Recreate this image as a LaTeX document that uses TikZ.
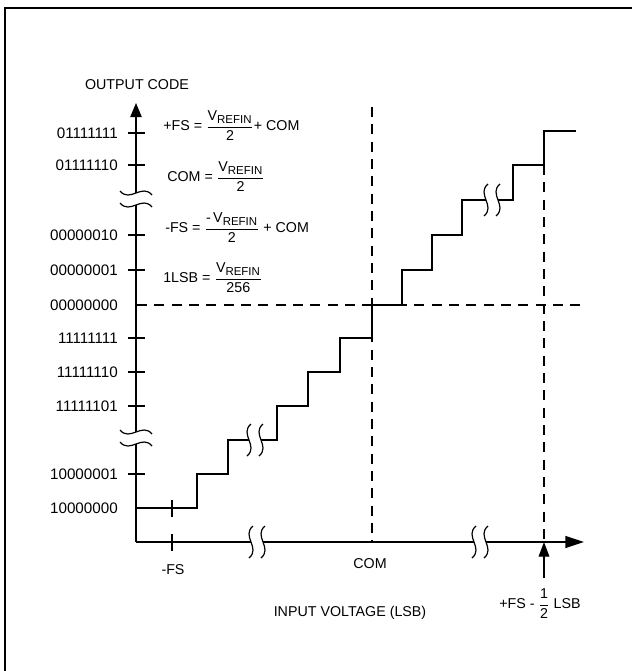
\documentclass[tikz,border=0pt]{standalone}
\usepackage{fontspec}
\setmainfont{Liberation Sans}
\usetikzlibrary{arrows.meta}

\newcommand{\vrefin}{\mbox{V}_{\mbox{\fontsize{8.6}{9}\selectfont REFIN}}}
\newcommand{\adcfrac}[2]{$\displaystyle\frac{#1}{#2}$}

\tikzset{
    lbl/.style={font=\fontsize{10.7}{12.8}\selectfont, inner sep=0pt},
    codelbl/.style={font=\fontsize{11.4}{13}\selectfont, inner sep=0pt, anchor=east},
    stair/.style={line width=1pt},
    guide/.style={line width=0.8pt, dash pattern=on 7.5pt off 5.5pt},
    gap/.pic={
        \fill[white] (-4,-16) .. controls (-16,-6) and (4,6) .. (-8,16) -- (4,16)
            .. controls (16,6) and (-4,-6) .. (8,-16) -- cycle;
        \draw[line width=0.9pt] (-4,-16) .. controls (-16,-6) and (4,6) .. (-8,16);
        \draw[line width=0.9pt] (8,-16) .. controls (-4,-6) and (16,6) .. (4,16);
    }
}

\begin{document}
\begin{tikzpicture}[x=0.75pt, y=-0.75pt]
    \useasboundingbox (0,0) rectangle (632,671);
    \draw[line width=1.6pt] (5,671) -- (5,8) -- (632,8);

    \coordinate (O) at (136,542);
    \coordinate (ytip) at (136,103);
    \coordinate (xtip) at (584,542);
    \coordinate (fstail) at (544,578);
    \coordinate (fshead) at (544,542);

    \draw[guide] (137,305) -- (580,305);
    \draw[guide] (372,107) -- (372,542);
    \draw[guide] (544,165) -- (544,542);

    \draw[stair, -{Triangle[length=10.5pt,width=8.5pt]}] (O) -- (ytip);
    \draw[stair, -{Triangle[length=14pt,width=9pt]}] (O) -- (xtip);
    \draw[stair, -{Triangle[length=11pt,width=8pt]}] (fstail) -- (fshead);

    \foreach \y/\code in {508/10000000, 474/10000001, 406/11111101, 372/11111110, 338/11111111,
                          305/00000000, 270/00000001, 235/00000010, 165/01111110, 133/01111111}{
        \draw (118,\y) node[codelbl] (code\y) {\code};
    }
    \foreach \y in {474,406,372,338,270,235,165,133}{
        \draw[stair] (128,\y) -- (145,\y);
    }

    \draw[stair] (136,508) -- (197,508) -- (197,474) -- (228,474) -- (228,440) -- (277,440)
        -- (277,406) -- (308,406) -- (308,372) -- (340,372) -- (340,338) -- (372,338)
        -- (372,305) -- (402,305) -- (402,270) -- (432,270) -- (432,235) -- (462,235)
        -- (462,200) -- (513,200) -- (513,165) -- (544,165) -- (544,131) -- (576,131);

    \draw[stair] (172,534) -- (172,551);
    \draw[stair] (172,500) -- (172,517);

    \pic at (255,440) {gap};
    \pic at (492,200) {gap};
    \pic at (257,542) {gap};
    \pic at (480,542) {gap};
    \pic[rotate=90] at (136,199) {gap};
    \pic[rotate=90] at (136,438) {gap};

    \draw (137,85) node[lbl] (ytitle) {OUTPUT CODE};
    \draw (350,613) node[lbl] (xtitle) {INPUT VOLTAGE (LSB)};
    \draw (173,570) node[lbl] (mfs) {-FS};
    \draw (370,564) node[lbl] (com) {COM};
    \draw (540,604) node[lbl] (pfs) {+FS - \adcfrac{\mbox{1}}{\mbox{2}} LSB};

    \draw (163,126) node[lbl, anchor=west] (eqpfs) {+FS = \adcfrac{\vrefin}{\mbox{2}}+ COM};
    \draw (167,177) node[lbl, anchor=west] (eqcom) {COM = \adcfrac{\vrefin}{\mbox{2}}};
    \draw (165,228) node[lbl, anchor=west] (eqmfs) {-FS = \adcfrac{\mbox{-\,}\vrefin}{\mbox{2}} + COM};
    \draw (163,278) node[lbl, anchor=west] (eqlsb) {1LSB = \adcfrac{\vrefin}{\mbox{256}}};

\end{tikzpicture}
\end{document}
